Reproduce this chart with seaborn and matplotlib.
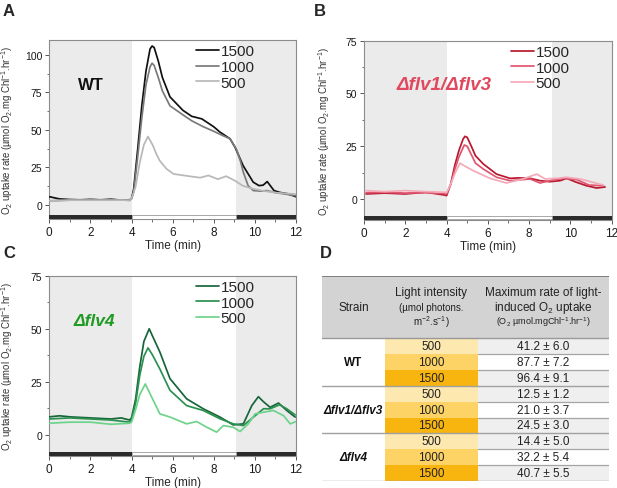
import matplotlib

matplotlib.use("Agg")
import matplotlib.pyplot as plt
import seaborn as sns
from matplotlib.patches import Rectangle

# ---- panel A: WT ----
wt_t_1500 = [0, 0.5, 1, 1.5, 2, 2.5, 3, 3.5, 3.9, 4.0, 4.1, 4.3, 4.5, 4.7, 4.9, 5.0, 5.1, 5.3, 5.5, 5.87,
             6.5, 6.93, 7.42, 8.0, 8.3, 8.79, 9.03, 9.43, 9.92, 10.2, 10.4, 10.6, 10.93, 11.2, 11.58, 12]
wt_1500 = [5.3, 3.8, 3.4, 3.2, 3.5, 3.2, 3.6, 3.0, 3.2, 4, 10, 37, 66, 89, 104, 106, 105, 96, 85, 72,
           63, 59, 57.3, 52, 48.5, 44, 38.5, 26, 15, 12.7, 13, 15.4, 9.4, 8.2, 7.3, 5.3]
wt_t_1000 = [0, 0.5, 1, 2, 3, 3.5, 3.9, 4.0, 4.1, 4.3, 4.5, 4.7, 4.9, 5.0, 5.1, 5.3, 5.5, 5.87, 6.5, 6.93,
             7.5, 8.0, 8.3, 8.79, 9.1, 9.3, 9.43, 9.67, 9.92, 10.3, 10.58, 11.0, 11.5, 12]
wt_1000 = [2.5, 2.8, 3, 3, 3, 3.2, 2.8, 4, 8, 32, 58, 80, 92, 94.5, 93, 85, 76, 66, 60, 56,
           52, 49, 47, 44, 37, 29, 22, 12.7, 9.4, 9, 9.4, 8, 7, 6]
wt_t_500 = [0, 1, 2, 3, 3.9, 4.0, 4.2, 4.4, 4.6, 4.8, 5.04, 5.2, 5.37, 5.7, 6.04, 6.69, 7.34, 7.74, 8.2,
            8.6, 9.03, 9.4, 9.92, 10.5, 11.0, 11.5, 12]
wt_500 = [2.5, 3, 3, 3, 3, 4, 12, 28, 40, 45.5, 39.5, 34, 29.4, 23.9, 20.5, 19.2, 18, 19.5, 17,
          19, 16, 12.7, 10.5, 9, 8, 7.5, 7]

# ---- panel B: flv1/flv3 ----
b_t_1500 = [0.1, 1, 2, 3, 3.9, 4.0, 4.2, 4.4, 4.6, 4.8, 4.89, 5.0, 5.2, 5.4, 5.78, 6.42, 7.07, 7.5, 8.04,
            8.53, 9.01, 9.5, 9.82, 10.3, 10.78, 11.27, 11.68]
b_1500 = [2.4, 2.8, 2.4, 3.2, 1.9, 1.6, 7, 16, 23, 28.4, 29.7, 29.2, 25, 20.5, 16.6, 11.8, 9.8, 10, 9.8,
          8.7, 8.2, 8.7, 9.8, 7.9, 6.3, 5.2, 5.7]
b_t_1000 = [0.1, 1, 2, 3, 3.9, 4.0, 4.2, 4.4, 4.6, 4.86, 5.0, 5.2, 5.4, 5.78, 6.42, 7.07, 7.5, 8.04, 8.53,
            9.01, 9.66, 10.3, 10.9, 11.6]
b_1000 = [3, 3.2, 2.8, 3, 2.6, 2.5, 7, 14, 20, 25.6, 25, 21, 17, 14.2, 10.3, 8.7, 9, 9.5, 7.6,
          8.7, 9.8, 9.2, 6.6, 6.3]
b_t_500 = [0.1, 1, 2, 3, 3.9, 4.0, 4.2, 4.4, 4.65, 4.9, 5.3, 6.1, 6.9, 7.7, 8.37, 8.77, 9.34, 9.82,
           10.47, 11.1, 11.6]
b_500 = [4, 3.5, 4, 3.5, 3.2, 3, 7, 12, 17, 15.5, 13.4, 9.8, 7.6, 9.5, 11.8, 9.5, 9.8, 10.3,
         9.5, 7.9, 6.6]

# ---- panel C: flv4 ----
c_t_1500 = [0, 0.5, 1, 2, 3, 3.5, 3.9, 4.0, 4.2, 4.4, 4.6, 4.86, 5.0, 5.38, 5.87, 6.68, 7.49, 8.3, 8.95,
            9.44, 9.85, 10.17, 10.42, 10.74, 11.15, 11.55, 11.96]
c_1500 = [8.5, 9, 8.5, 8, 7.5, 8, 7, 8, 17, 32, 44, 50, 47, 39, 26.5, 17, 12.3, 8.4, 4.7,
          5.2, 13.8, 18, 15.6, 13, 15, 11.5, 8.4]
c_t_1000 = [0, 1, 2, 3, 3.9, 4.0, 4.2, 4.4, 4.6, 4.8, 5.0, 5.38, 5.87, 6.68, 7.49, 8.3, 8.95, 9.44, 9.93,
            10.42, 10.74, 11.2, 11.55, 11.96]
c_1000 = [7.5, 8, 7.5, 7, 6, 7, 15, 28, 37, 41, 38, 31, 21, 13.8, 11.5, 7.6, 5.2, 4.4, 8.4,
          12.3, 12.3, 14.2, 12.3, 9.4]
c_t_500 = [0, 1, 2, 3, 3.9, 4.0, 4.2, 4.4, 4.67, 5.02, 5.38, 5.87, 6.68, 7.17, 7.66, 8.14, 8.47, 8.95,
           9.28, 9.68, 10.01, 10.42, 10.9, 11.39, 11.72, 12.0]
c_500 = [5.5, 6, 6, 5, 5.5, 6, 12, 19, 24, 17, 9.9, 8.4, 5.2, 6.3, 3.6, 1.3, 4.4, 3.6,
         1.6, 5.2, 9.9, 10.7, 11.5, 9.1, 5.2, 6.3]

levels = ["1500", "1000", "500"]

# ---- panel D: table ----
strains = ["WT", "Δflv1/Δflv3", "Δflv4"]
intensities = ["500", "1000", "1500"]
max_rates = [["41.2 ± 6.0", "87.7 ± 7.2", "96.4 ± 9.1"],
             ["12.5 ± 1.2", "21.0 ± 3.7", "24.5 ± 3.0"],
             ["14.4 ± 5.0", "32.2 ± 5.4", "40.7 ± 5.5"]]

sns.set_theme(style="ticks")
plt.rcParams.update({
    "font.family": ["Liberation Sans", "DejaVu Sans"],
    "mathtext.fontset": "custom",
    "mathtext.rm": "Liberation Sans",
    "mathtext.it": "Liberation Sans:italic",
    "mathtext.bf": "Liberation Sans:bold",
    "axes.edgecolor": "#8c8c8c",
    "axes.linewidth": 0.8,
    "xtick.color": "#555555",
    "ytick.color": "#555555",
    "xtick.labelcolor": "#1a1a1a",
    "ytick.labelcolor": "#1a1a1a",
})

fig = plt.figure(figsize=(6.17, 4.89), dpi=100)
W, H = 617, 489


def px_axes(x0, y0, x1, y1):
    return fig.add_axes([x0 / W, 1 - y1 / H, (x1 - x0) / W, (y1 - y0) / H])


ax_a = px_axes(49.3, 41, 296, 220)
ax_b = px_axes(364, 41.7, 611.7, 220.7)
ax_c = px_axes(49.3, 276.7, 296, 456.7)
ax_d = px_axes(322, 277, 609, 482)


def draw_panel(ax, series, colors, ylim, yticks, name, name_color, name_xy, name_size, ylab_x, name_style):
    ax.axvspan(0, 4, color="#ebebeb", lw=0, zorder=0)
    ax.axvspan(9.1, 12, color="#ebebeb", lw=0, zorder=0)
    tr = ax.get_xaxis_transform()
    ax.add_patch(Rectangle((0, 0), 4, 0.022, transform=tr, color="#2b2b2b", lw=0, zorder=3))
    ax.add_patch(Rectangle((9.1, 0), 2.9, 0.022, transform=tr, color="#2b2b2b", lw=0, zorder=3))
    ax.add_patch(Rectangle((4, 0.002), 5.1, 0.018, transform=tr, facecolor="white",
                           edgecolor="#9a9a9a", lw=0.6, zorder=3))
    for (t, v), lab, col in zip(series, levels, colors):
        sns.lineplot(x=t, y=v, color=col, lw=1.25, ax=ax, label=lab, estimator=None, sort=False, zorder=4)
    ax.set_xlim(0, 12)
    ax.set_ylim(*ylim)
    ax.set_xticks(range(0, 13, 2))
    ax.set_xticks(range(1, 12, 2), minor=True)
    ax.set_yticks(yticks)
    ax.set_yticks([y + 12.5 for y in yticks[:-1]], minor=True)
    ax.tick_params(axis="both", which="major", direction="out", length=3, width=0.7, pad=2)
    ax.tick_params(axis="both", which="minor", direction="out", length=1.8, width=0.6)
    ax.tick_params(axis="x", labelsize=8.5)
    ax.tick_params(axis="y", labelsize=7.5)
    ax.set_xlabel("Time (min)", fontsize=8.5, labelpad=1)
    ax.set_ylabel(r"O$_2$ uptake rate (µmol O$_2$.mg Chl$^{-1}$.hr$^{-1}$)", fontsize=6.9, color="#333333")
    ax.yaxis.set_label_coords(ylab_x, 0.5)
    ax.legend(loc="upper left", bbox_to_anchor=(0.595, 0.975), frameon=False, fontsize=11,
              borderaxespad=0, borderpad=0, handlelength=1.5, handletextpad=0.1, labelspacing=0.1)
    ax.text(*name_xy, name, transform=ax.transAxes, fontsize=name_size, fontweight="bold",
            fontstyle=name_style, color=name_color, ha="center", va="center")
    for s in ax.spines.values():
        s.set_visible(True)


draw_panel(ax_a, [(wt_t_1500, wt_1500), (wt_t_1000, wt_1000), (wt_t_500, wt_500)],
           ["#111111", "#7a7a7a", "#b8b8b8"], (-9.6, 110), [0, 25, 50, 75, 100],
           "WT", "#111111", (0.168, 0.752), 12, -0.14, "normal")
draw_panel(ax_b, [(b_t_1500, b_1500), (b_t_1000, b_1000), (b_t_500, b_500)],
           ["#b8182e", "#e05570", "#f4aab8"], (-9.8, 75), [0, 25, 50, 75],
           "Δflv1/Δflv3", "#e0485e", (0.322, 0.755), 13.5, -0.13, "italic")
draw_panel(ax_c, [(c_t_1500, c_1500), (c_t_1000, c_1000), (c_t_500, c_500)],
           ["#17663a", "#2a9150", "#6ed38a"], (-9.8, 75), [0, 25, 50, 75],
           "Δflv4", "#1f9a22", (0.182, 0.75), 12.5, -0.14, "italic")

for lab, (x, y) in zip("ABCD", [(9, 12), (320, 12), (9, 253), (326, 253)]):
    fig.text(x / W, 1 - y / H, lab, fontsize=12, fontweight="bold", ha="center", va="center")

# ---- table ----
ax = ax_d
ax.set_xlim(322, 609)
ax.set_ylim(482, 277)
ax.axis("off")
c0, c1, c2, c3 = 322, 385, 478, 609
top, hdr_bot, row_h = 277, 339, 15.9
band_cols = ["#fde8b0", "#fcd364", "#f8b50f"]
ax.add_patch(Rectangle((c0, top), c3 - c0, hdr_bot - top, color="#d3d3d3", lw=0))
ax.plot([c0, c3], [top, top], color="#7d7d7d", lw=1.4)
ax.plot([c0, c3], [hdr_bot, hdr_bot], color="#9a9a9a", lw=1.0)
ax.text((c0 + c1) / 2, 308, "Strain", fontsize=8.5, ha="center", va="center", color="#222")
ax.text((c1 + c2) / 2, 293, "Light intensity", fontsize=8.5, ha="center", va="center", color="#222")
ax.text((c1 + c2) / 2, 308, "(µmol photons.", fontsize=7, ha="center", va="center", color="#222")
ax.text((c1 + c2) / 2, 322, r"m$^{-2}$.s$^{-1}$)", fontsize=7, ha="center", va="center", color="#222")
ax.text((c2 + c3) / 2, 293, "Maximum rate of light-", fontsize=8.5, ha="center", va="center", color="#222")
ax.text((c2 + c3) / 2, 308, r"induced O$_2$ uptake", fontsize=8.5, ha="center", va="center", color="#222")
ax.text((c2 + c3) / 2, 322, r"(O$_2$ µmol.mgChl$^{-1}$.hr$^{-1}$)", fontsize=6.5, ha="center",
        va="center", color="#222")
for g, strain in enumerate(strains):
    for r, inten in enumerate(intensities):
        y0 = hdr_bot + (g * 3 + r) * row_h
        ax.add_patch(Rectangle((c1, y0), c2 - c1, row_h, color=band_cols[r], lw=0))
        if r != 1:
            ax.add_patch(Rectangle((c2, y0), c3 - c2, row_h, color="#efefef", lw=0))
        ax.text((c1 + c2) / 2, y0 + row_h / 2, inten, fontsize=8.5, ha="center", va="center", color="#222")
        ax.text((c2 + c3) / 2, y0 + row_h / 2, max_rates[g][r], fontsize=8.5, ha="center", va="center",
                color="#222")
        if r < 2:
            ax.plot([c2, c3], [y0 + row_h, y0 + row_h], color="#a5a5a5", lw=0.9)
    yg = hdr_bot + (g * 3 + 1.5) * row_h
    ax.text((c0 + c1) / 2, yg, strain, fontsize=8.5, fontweight="bold",
            fontstyle="normal" if g == 0 else "italic", ha="center", va="center", color="#111")
    ax.plot([c0, c3], [hdr_bot + (g + 1) * 3 * row_h] * 2, color="#a0a0a0", lw=1.0)

fig.savefig("out.png", dpi=100, facecolor="white")
